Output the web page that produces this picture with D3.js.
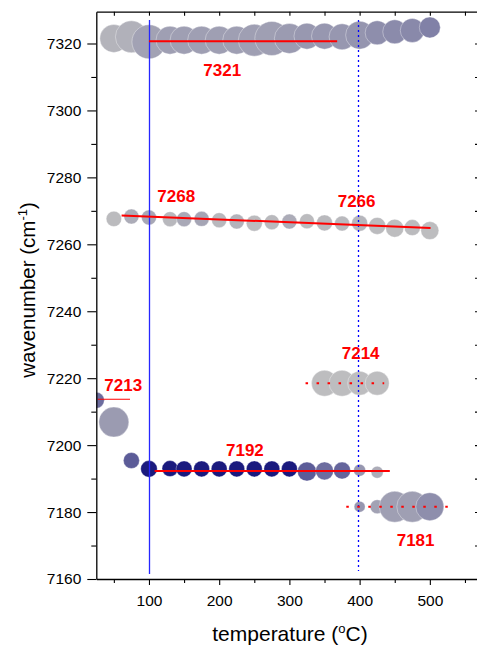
<!DOCTYPE html>
<html>
<head>
<meta charset="utf-8">
<script src="https://cdn.jsdelivr.net/npm/d3@7/dist/d3.min.js"></script>
<style>
  html, body { margin: 0; padding: 0; background: #fff; }
  svg { display: block; }
  text { font-family: Arial, "Liberation Sans", sans-serif; }
</style>
</head>
<body>
<svg id="chart" width="477" height="651"></svg>
<script>
// ---- data -------------------------------------------------------------
// temperatures (°C) of the main scan
const temps = [50, 75, 100, 130, 150, 175, 200, 225, 250, 275, 300, 325, 350, 375, 400, 425, 450, 475, 500];

// band near 7321 cm-1
const bandA = [7321.5, 7322.0, 7320.5, 7321.0, 7321.0, 7321.0, 7321.0, 7321.0, 7321.0, 7321.5, 7321.5, 7322.2, 7322.2, 7322.0, 7322.5, 7323.2, 7323.5, 7323.9, 7324.8];
const sizeA = [14, 16, 17, 14, 14, 14, 14, 14, 16, 17, 15, 13, 13, 13, 14, 12, 12, 12, 10.5];
const shadeA = [0.07, 0.09, 0.18, 0.2, 0.2, 0.2, 0.2, 0.2, 0.2, 0.2, 0.22, 0.24, 0.25, 0.25, 0.26, 0.3, 0.32, 0.33, 0.38];

// band near 7268 cm-1
const bandB = [7267.6, 7268.3, 7268.0, 7267.5, 7267.5, 7267.6, 7267.2, 7266.8, 7266.3, 7266.6, 7266.8, 7266.9, 7266.4, 7266.2, 7266.3, 7265.5, 7264.8, 7265.0, 7264.1];
const sizeB = [7.7, 7.5, 7.5, 7.5, 7.5, 7.5, 7.5, 7.5, 8, 7.5, 7.5, 7.5, 8, 7.5, 8, 8.5, 9, 8, 9];
const shadeB = [0.03, 0.12, 0.15, 0.05, 0.14, 0.16, 0.05, 0.08, 0.03, 0.04, 0.12, 0.03, 0.04, 0.04, 0.06, 0.03, 0.02, 0.03, 0.02];

// low-temperature branch (7213 -> 7192)
const tempsC = [25, 50, 75];
const bandC = [7213.4, 7206.9, 7195.4];
const sizeC = [8, 15, 8];
const shadeC = [0.5, 0.22, 0.6];

// band near 7192 cm-1
const tempsD = [100, 130, 150, 175, 200, 225, 250, 275, 300, 325, 350, 375, 400, 425];
const bandD = [7192.9, 7193.0, 7192.9, 7192.9, 7192.9, 7192.9, 7192.9, 7192.9, 7192.9, 7192.1, 7192.3, 7192.4, 7192.5, 7191.9];
const sizeD = [8.3, 8, 8, 8, 8, 8, 8, 8, 8, 9.5, 9, 8.5, 6, 6];
const shadeD = [1, 1, 1, 1, 1, 1, 1, 1, 1, 0.6, 0.5, 0.55, 0.25, 0.12];

// band near 7214 cm-1 (high temperature)
const tempsE = [350, 375, 400, 425];
const bandE = [7218.5, 7218.5, 7218.5, 7218.5];
const sizeE = [13, 13, 12, 12];
const shadeE = [0.02, 0.02, 0.02, 0.02];

// band near 7181 cm-1 (high temperature)
const tempsF = [400, 425, 450, 475, 500];
const bandF = [7181.6, 7181.6, 7181.6, 7181.6, 7181.6];
const sizeF = [5.5, 7, 15.5, 15.5, 14];
const shadeF = [0.25, 0.18, 0.2, 0.2, 0.3];

// mean-position guide lines: [t0, t1, wavenumber at t0, wavenumber at t1, dotted]
const fitLines = [
  [100, 368, 7320.7, 7320.7, false],
  [61, 501, 7268.6, 7264.9, false],
  [27, 73, 7213.7, 7213.7, false],
  [108, 443, 7192.3, 7192.3, false],
  [323, 435, 7218.5, 7218.5, true],
  [381, 537, 7181.6, 7181.6, true]
];
const fitWidths = [2, 2, 1.2, 2, 2, 2];

// band labels: [text, temperature at left edge, wavenumber at baseline]
const bandLabels = [
  ["7321", 177.4, 7310.3],
  ["7268", 111.9, 7272.5],
  ["7266", 368.8, 7271.2],
  ["7213", 36.4, 7216.3],
  ["7214", 374.5, 7225.6],
  ["7192", 209.7, 7196.7],
  ["7181", 452.8, 7169.9]
];

// phase-transition markers (°C)
const transitions = [[100, false], [397, true]];

const xMajor = [100, 200, 300, 400, 500];
const xMinor = [50, 150, 250, 350, 450, 550];
const yMajor = [7160, 7180, 7200, 7220, 7240, 7260, 7280, 7300, 7320];
const yMinor = [7170, 7190, 7210, 7230, 7250, 7270, 7290, 7310];

// ---- layout -----------------------------------------------------------
const svg = d3.select("#chart");
const padL = 96.3, padR = 479, padT = 11.7, padB = 579;

const x = d3.scaleLinear().domain([25, 570]).range([padL, padR]);
const y = d3.scaleLinear().domain([7160, 7329.5]).range([padB, padT]);
const r = d3.scaleLinear().domain([0, 1]).range([0, 1]);
const shade = d3.scaleLinear().domain([0, 1]).range(["#c0c0c0", "#1a1a7e"]).interpolate(d3.interpolateRgb);

svg.append("defs").append("clipPath").attr("id", "plot")
  .append("rect").attr("x", padL).attr("y", padT).attr("width", padR - padL).attr("height", padB - padT);

const plot = svg.append("g").attr("clip-path", "url(#plot)");

function bubbles(ts, vs, ss, cs) {
  const pts = ts.map((t, i) => ({ t, v: vs[i], s: ss[i], c: cs[i] }));
  plot.append("g").selectAll("circle").data(pts).join("circle")
    .attr("cx", d => x(d.t))
    .attr("cy", d => y(d.v))
    .attr("r", d => r(d.s))
    .attr("fill", d => shade(d.c))
    .attr("stroke", "#ffffff")
    .attr("stroke-opacity", 0.45)
    .attr("stroke-width", 0.8);
}

bubbles(temps, bandA, sizeA, shadeA);
bubbles(temps, bandB, sizeB, shadeB);
bubbles(tempsC, bandC, sizeC, shadeC);
bubbles(tempsD, bandD, sizeD, shadeD);
bubbles(tempsE, bandE, sizeE, shadeE);
bubbles(tempsF, bandF, sizeF, shadeF);

// transition markers
plot.append("g").selectAll("line").data(transitions).join("line")
  .attr("x1", d => Math.round(x(d[0])) + 0.5).attr("x2", d => Math.round(x(d[0])) + 0.5)
  .attr("y1", y(7327)).attr("y2", d => d[1] ? y(7162.4) : y(7161.5))
  .attr("stroke", d => d[1] ? "#0000ff" : "#2626ff")
  .attr("stroke-width", 1.3)
  .attr("stroke-dasharray", d => d[1] ? "2,3" : null);

// guide lines
plot.append("g").selectAll("line").data(fitLines).join("line")
  .attr("x1", d => x(d[0])).attr("x2", d => x(d[1]))
  .attr("y1", d => y(d[2])).attr("y2", d => y(d[3]))
  .attr("stroke", "#ff0000")
  .attr("stroke-width", (d, i) => fitWidths[i])
  .attr("stroke-dasharray", d => d[4] ? "2.5,8.5" : null);

// labels
svg.append("g").selectAll("text").data(bandLabels).join("text")
  .attr("x", d => x(d[1]))
  .attr("y", d => y(d[2]))
  .attr("fill", "#ff0000")
  .attr("font-size", 17)
  .attr("font-weight", "bold")
  .text(d => d[0]);

// ---- axes -------------------------------------------------------------
function styleAxis(g) {
  g.selectAll(".domain").attr("stroke", "#000").attr("stroke-width", 1.3);
  g.selectAll(".tick line").attr("stroke", "#000").attr("stroke-width", 1.1);
  g.selectAll("text").attr("font-size", 15.5).attr("fill", "#000")
    .attr("font-family", "Arial, 'Liberation Sans', sans-serif");
}

// bottom
svg.append("g").attr("transform", `translate(0,${padB})`)
  .call(d3.axisBottom(x).tickValues(xMinor).tickSize(4).tickFormat("").tickSizeOuter(0))
  .call(g => g.select(".domain").remove())
  .call(styleAxis);
svg.append("g").attr("transform", `translate(0,${padB})`)
  .call(d3.axisBottom(x).tickValues(xMajor).tickSize(6).tickPadding(10).tickSizeOuter(0).tickFormat(d3.format("d")))
  .call(styleAxis);

// top (inward ticks)
svg.append("g").attr("transform", `translate(0,${padT})`)
  .call(d3.axisTop(x).tickValues(xMinor.concat(xMajor)).tickSize(-4).tickFormat("").tickSizeOuter(0))
  .call(styleAxis);

// left
svg.append("g").attr("transform", `translate(${padL},0)`)
  .call(d3.axisLeft(y).tickValues(yMinor).tickSize(5).tickFormat("").tickSizeOuter(0))
  .call(g => g.select(".domain").remove())
  .call(styleAxis);
svg.append("g").attr("transform", `translate(${padL},0)`)
  .call(d3.axisLeft(y).tickValues(yMajor).tickSize(9).tickPadding(6).tickSizeOuter(0).tickFormat(d3.format("d")))
  .call(styleAxis);

// right (inward ticks)
svg.append("g").attr("transform", `translate(${padR},0)`)
  .call(d3.axisRight(y).tickValues(yMinor.concat(yMajor)).tickSize(-4).tickFormat("").tickSizeOuter(0))
  .call(styleAxis);

// axis titles
const xt = svg.append("text")
  .attr("x", 290).attr("y", 641)
  .attr("text-anchor", "middle")
  .attr("font-size", 21)
  .attr("fill", "#000");
xt.append("tspan").text("temperature (");
xt.append("tspan").attr("font-size", 13).attr("dy", -8).text("o");
xt.append("tspan").attr("dy", 8).text("C)");

const yt = svg.append("text")
  .attr("transform", "translate(35,290) rotate(-90)")
  .attr("text-anchor", "middle")
  .attr("font-size", 20.5)
  .attr("fill", "#000");
yt.append("tspan").text("wavenumber (cm");
yt.append("tspan").attr("font-size", 13).attr("dy", -8).text("-1");
yt.append("tspan").attr("dy", 8).text(")");
</script>
</body>
</html>
